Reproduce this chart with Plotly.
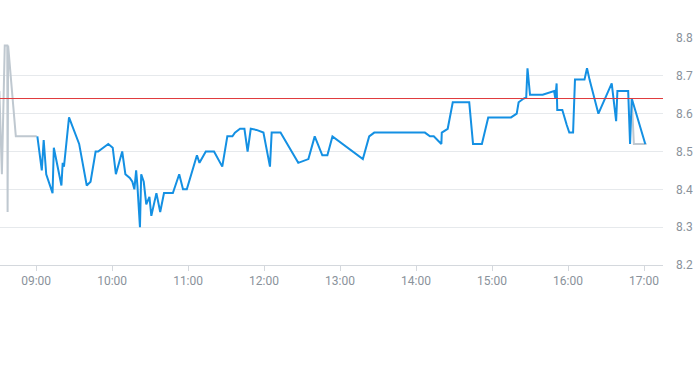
import plotly.graph_objects as go

DAY = "2024-01-02 "

pre_times = ["08:31:00", "08:33:00", "08:35:15", "08:37:15", "08:37:30", "08:37:55", "08:44:00", "09:00:30"]
pre_vals = [8.66, 8.44, 8.78, 8.78, 8.34, 8.78, 8.54, 8.54]

main_times = [
    "09:01:00", "09:04:30", "09:06:00", "09:08:00", "09:13:00", "09:14:00", "09:20:00", "09:21:00",
    "09:22:00", "09:26:00", "09:34:00", "09:40:00", "09:43:00", "09:47:00", "09:49:00", "09:53:00",
    "09:57:00", "10:00:30", "10:03:00", "10:08:00", "10:10:30", "10:14:00", "10:16:00", "10:17:36",
    "10:19:00", "10:20:00", "10:22:00", "10:23:00", "10:25:00", "10:27:00", "10:29:30", "10:31:00",
    "10:35:00", "10:38:00", "10:41:00", "10:48:00", "10:53:00", "10:56:00", "10:59:00", "11:07:00",
    "11:09:00", "11:14:00", "11:20:30", "11:27:00", "11:31:00", "11:35:00", "11:37:00", "11:41:00",
    "11:44:30", "11:47:00", "11:49:30", "11:54:00", "11:59:30", "12:04:40", "12:06:00", "12:13:00",
    "12:27:00", "12:35:00", "12:40:00", "12:46:00", "12:50:00", "12:54:00", "13:18:00", "13:23:00",
    "13:27:00", "14:07:00", "14:11:00", "14:14:00", "14:20:00", "14:20:20", "14:25:00", "14:29:00",
    "14:42:00", "14:45:00", "14:52:00", "14:57:00", "15:15:00", "15:19:30", "15:21:00", "15:25:00",
    "15:27:00", "15:28:00", "15:30:00", "15:40:00", "15:49:00", "15:50:00", "15:51:00", "15:51:30",
    "15:55:30", "15:59:00", "16:01:00", "16:04:00", "16:05:30", "16:13:00", "16:15:00", "16:17:00",
    "16:24:00", "16:34:30", "16:38:00", "16:39:00", "16:47:30", "16:49:00", "16:50:20", "17:01:00",
]
main_vals = [
    8.54, 8.45, 8.53, 8.44, 8.39, 8.51, 8.41, 8.47,
    8.46, 8.59, 8.52, 8.41, 8.42, 8.50, 8.50, 8.51,
    8.52, 8.51, 8.44, 8.50, 8.44, 8.43, 8.42, 8.40,
    8.45, 8.41, 8.30, 8.44, 8.42, 8.36, 8.38, 8.33,
    8.39, 8.34, 8.39, 8.39, 8.44, 8.40, 8.40, 8.49,
    8.47, 8.50, 8.50, 8.46, 8.54, 8.54, 8.55, 8.56,
    8.56, 8.50, 8.56, 8.557, 8.55, 8.46, 8.55, 8.55,
    8.47, 8.48, 8.54, 8.49, 8.49, 8.54, 8.48, 8.54,
    8.55, 8.55, 8.54, 8.54, 8.52, 8.55, 8.56, 8.63,
    8.63, 8.52, 8.52, 8.59, 8.59, 8.60, 8.63, 8.64,
    8.643, 8.72, 8.65, 8.65, 8.66, 8.64, 8.68, 8.61,
    8.61, 8.57, 8.55, 8.55, 8.69, 8.69, 8.72, 8.69,
    8.60, 8.68, 8.58, 8.66, 8.66, 8.52, 8.64, 8.52,
]

post_times = ["16:50:20", "16:52:00", "17:02:00"]
post_vals = [8.64, 8.52, 8.52]

prev_close = 8.64

x_range = ["08:31:30", "17:15:00"]
y_range = [8.2, 8.8]
y_ticks = [8.2, 8.3, 8.4, 8.5, 8.6, 8.7, 8.8]
x_ticks = ["09:00", "10:00", "11:00", "12:00", "13:00", "14:00", "15:00", "16:00", "17:00"]

GRAY = "#bfc8d0"
BLUE = "#1490e3"

fig = go.Figure()
fig.add_trace(go.Scatter(x=[DAY + t for t in pre_times], y=pre_vals, mode="lines",
                         line=dict(color=GRAY, width=2), showlegend=False))
fig.add_trace(go.Scatter(x=[DAY + t for t in post_times], y=post_vals, mode="lines",
                         line=dict(color=GRAY, width=2), showlegend=False))
fig.add_trace(go.Scatter(x=[DAY + t for t in main_times], y=main_vals, mode="lines",
                         line=dict(color=BLUE, width=2), showlegend=False))
fig.add_hline(y=prev_close, line=dict(color="#e0393b", width=1))

fig.update_layout(
    width=693, height=365,
    margin=dict(l=0, r=30, t=38, b=100),
    paper_bgcolor="white", plot_bgcolor="white",
    font=dict(family="Roboto", size=12, color="#8a929b"),
    xaxis=dict(
        type="date",
        range=[DAY + x_range[0], DAY + x_range[1]],
        tickvals=[DAY + t for t in x_ticks],
        ticktext=x_ticks,
        showgrid=False, zeroline=False,
        showline=True, linecolor="#d4d8dd", linewidth=1,
        ticks="outside", ticklen=5, tickcolor="#d4d8dd",
    ),
    yaxis=dict(
        side="right",
        range=y_range,
        tickvals=y_ticks,
        ticktext=[f"{v:.1f}" for v in y_ticks],
        showgrid=True, gridcolor="#e6e9ec", gridwidth=1,
        zeroline=False, showline=False, ticks="",
        ticklabelstandoff=12,
    ),
)

fig.write_html("out.html")
